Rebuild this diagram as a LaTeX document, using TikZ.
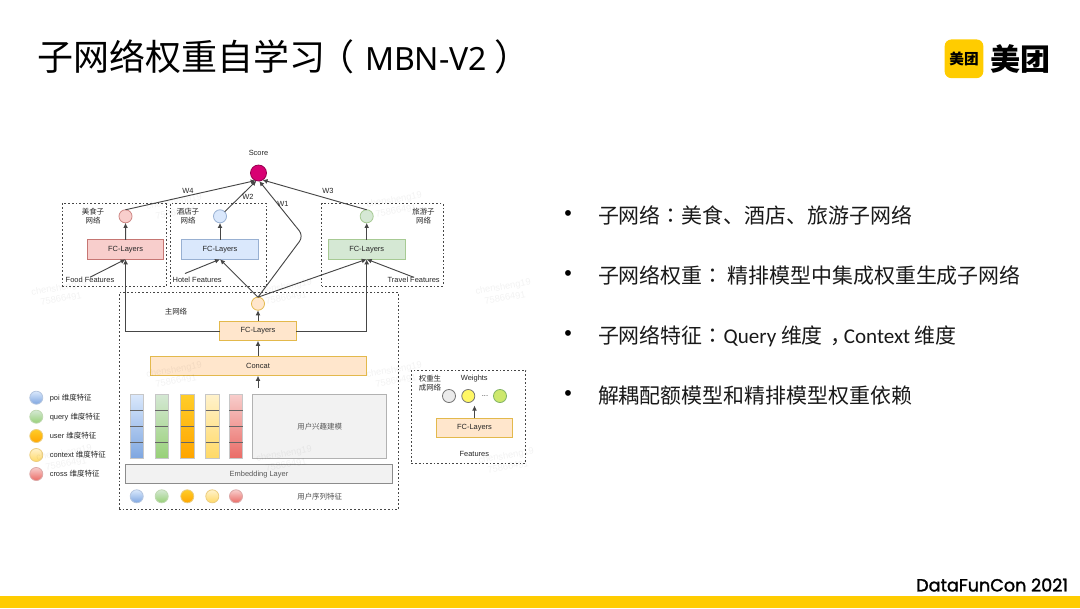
\documentclass[tikz,border=0pt]{standalone}
\usepackage{xcolor}
\usepackage{fontspec}
\setmainfont{Liberation Sans}
\newfontfamily\cjk{Noto Sans CJK SC}
\newfontfamily\cjktc{Noto Sans CJK TC}
\newfontfamily\latinfont{Carlito}
\newfontfamily\titlefont{Noto Sans}
\newfontfamily\confont[FakeBold=1.6]{Poppins}
\usetikzlibrary{arrows.meta,positioning,fit,calc,shapes.geometric}
\definecolor{mtYellow}   {RGB}{255,204,  0}
\definecolor{mtScore}    {RGB}{216,  0,115}
\definecolor{mtBlue}     {RGB}{108,142,191}
\definecolor{mtBlueL}    {RGB}{218,232,252}
\definecolor{mtBlueD}    {RGB}{126,166,224}
\definecolor{mtGreen}    {RGB}{130,179,102}
\definecolor{mtGreenL}   {RGB}{213,232,212}
\definecolor{mtGreenD}   {RGB}{151,208,119}
\definecolor{mtOrange}   {RGB}{215,155,  0}
\definecolor{mtOrangeL}  {RGB}{255,230,204}
\definecolor{mtAmber}    {RGB}{255,205, 40}
\definecolor{mtAmberD}   {RGB}{255,165,  0}
\definecolor{mtCream}    {RGB}{255,242,204}
\definecolor{mtCreamD}   {RGB}{255,217,102}
\definecolor{mtRed}      {RGB}{184, 84, 80}
\definecolor{mtRedL}     {RGB}{248,206,204}
\definecolor{mtRedD}     {RGB}{234,107,102}
\definecolor{mtGrey}     {RGB}{ 70, 70, 70}
\newcommand{\tinytxt}{\fontsize{5.6pt}{6.8pt}\selectfont}
\newcommand{\cntxt}{\cjk\fontsize{5.6pt}{6.8pt}\selectfont}
\newcommand{\cpunct}[1]{{\cjktc #1}}
\newcommand{\qlatin}[1]{{\latinfont\fontsize{15.8pt}{20pt}\selectfont #1}}
\begin{document}
\begin{tikzpicture}[
  x=0.75pt,y=-0.75pt,
  >={Latex[length=3.8pt,width=3.6pt]},
  every node/.style={inner sep=0pt,outer sep=0pt},
  lbl/.style ={font=\tinytxt,text=black!85,align=center},
  cnlbl/.style={font=\cntxt,text=black!85,align=center},
  bullet/.style={font=\fontsize{16pt}{18pt}\selectfont},
  item/.style={anchor=base west,font=\cjk\fontsize{15.7pt}{20pt}\selectfont,text=black!90},
  group/.style={draw=mtGrey,dash pattern=on 1.3pt off 1.5pt,line width=0.6pt},
  fc/.style ={draw,line width=0.7pt,minimum width=57.5pt,minimum height=14.6pt,font=\tinytxt,text=black!85},
  dot/.style={circle,draw,line width=0.6pt,minimum size=9.8pt},
  bar/.style={draw=black!22,line width=0.6pt,minimum width=10pt,minimum height=48.2pt},
  greybox/.style={draw=black!45,fill=black!5,line width=0.7pt},
  link/.style={->,mtGrey,line width=0.7pt},
  wmark/.style={text=black,text opacity=0.05,font=\fontsize{7pt}{8.5pt}\selectfont,rotate=10,align=center}
]
\useasboundingbox (0,0) rectangle (1080,608);
\fill[mtYellow] (0,596) rectangle (1080,608);

% title and logo
\node[anchor=base west,font=\cjk\fontsize{27pt}{30pt}\selectfont] (title) at (37,70.5) {子网络权重自学习\hspace{-5pt}（\hspace{8pt}{\titlefont\fontsize{24pt}{30pt}\selectfont MBN-V2}\hspace{6pt}）};
\node[fill=mtYellow,rounded corners=5pt,minimum size=29pt,font=\cjk\bfseries\fontsize{11pt}{12pt}\selectfont] (logo) at (964,58.8) {美团};
\node[anchor=west,font=\cjk\bfseries\fontsize{22.5pt}{24pt}\selectfont] (logotxt) at (990,59) {美团};
\node[anchor=east,font=\confont\fontsize{13.2pt}{15pt}\selectfont] (con) at (1068,585) {DataFunCon 2021};

% score and sub networks
\node[dot,draw=mtScore!70!black,fill=mtScore,minimum size=12pt] (score) at (258.5,173) {};
\node[lbl] (scorelbl) at (258.5,153) {Score};

\node[group,fit={(62,203.5) (166.5,286)}] (foodnet) {};
\node[group,fit={(170,203.5) (266.7,286)}] (hotelnet) {};
\node[group,fit={(321.7,203.5) (443,286)}] (travelnet) {};
\node[group,fit={(119,292.7) (398.3,509.3)}] (mainnet) {};
\node[group,fit={(411.3,370.7) (525.7,463.3)}] (weightnet) {};

\node[dot,draw=mtRed!70,fill=mtRedL] (foodc) at (125.5,216.3) {};
\node[dot,draw=mtBlue!70,fill=mtBlueL] (hotelc) at (220,216.3) {};
\node[dot,draw=mtGreen!70,fill=mtGreenL] (travelc) at (366.7,216.3) {};
\node[fc,draw=mtRed!80,fill=mtRedL] (foodfc) at (125.6,249.5) {FC-Layers};
\node[fc,draw=mtBlue!70,fill=mtBlueL] (hotelfc) at (220,249.5) {FC-Layers};
\node[fc,draw=mtGreen!70,fill=mtGreenL] (travelfc) at (366.7,249.5) {FC-Layers};
\node[cnlbl] (foodname) at (93,216.5) {美食子\\网络};
\node[cnlbl] (hotelname) at (188,216.5) {酒店子\\网络};
\node[cnlbl] (travelname) at (423.5,216.5) {旅游子\\网络};
\node[lbl,anchor=west] (foodfeat) at (65.7,280) {Food Features};
\node[lbl,anchor=west] (hotelfeat) at (172.7,280) {Hotel Features};
\node[lbl,anchor=west] (travelfeat) at (387.7,280) {Travel Features};
\coordinate (hotelstart) at (185,273.5);

% main network
\node[dot,draw=mtOrange!70,fill=mtOrangeL] (mainc) at (258,303.7) {};
\node[fc,draw=mtOrange!70,fill=mtOrangeL] (mainfc) at (258,331) {FC-Layers};
\node[draw=mtOrange!70,fill=mtOrangeL,line width=0.7pt,fit={(150,356) (366.7,375.7)}] (concat) {};
\node[font=\tinytxt,text=black!85] (concatlbl) at (258,366) {Concat};
\coordinate (concatin) at (258,388);
\node[cnlbl] (mainname) at (176,312) {主网络};

\node[bar,top color=mtBlueL,bottom color=mtBlueD] (bar1) at (136.7,426.2) {};
\node[bar,top color=mtGreenL,bottom color=mtGreenD] (bar2) at (161.7,426.2) {};
\node[bar,top color=mtAmber,bottom color=mtAmberD] (bar3) at (187.3,426.2) {};
\node[bar,top color=mtCream,bottom color=mtCreamD] (bar4) at (212.3,426.2) {};
\node[bar,top color=mtRedL,bottom color=mtRedD] (bar5) at (236,426.2) {};
\foreach \b in {bar1,bar2,bar3,bar4,bar5}
  \foreach \s in {16,32,48}
    \draw[black!60,line width=0.8pt] ($(\b.north west)+(0,\s)$) -- ($(\b.north east)+(0,\s)$);

\node[greybox,draw=black!30,fit={(252.7,394) (386.7,458.3)}] (interest) {};
\node[cnlbl,text=black!65] (interestlbl) at (319.7,426.5) {用户兴趣建模};
\node[greybox,fit={(125.3,464.3) (392.7,483.3)}] (embed) {};
\node[font=\tinytxt,text=black!65] (embedlbl) at (259,474.5) {Embedding Layer};
\node[cnlbl,text=black!70] (seqlbl) at (319.7,497) {用户序列特征};

% feature dots and legend
\foreach \n/\x/\cl/\cd/\ce in {1/136.7/mtBlueL/mtBlueD/mtBlue,2/161.7/mtGreenL/mtGreenD/mtGreen,3/187.3/mtAmber/mtAmberD/mtOrange,4/212.3/mtCream/mtCreamD/mtOrange,5/236/mtRedL/mtRedD/mtRed}
  \node[dot,draw=\ce!50,top color=\cl,bottom color=\cd] (feat\n) at (\x,496.3) {};

\foreach \n/\y/\cl/\cd/\ce/\t in {1/397.7/mtBlueL/mtBlueD/mtBlue/poi,2/416.7/mtGreenL/mtGreenD/mtGreen/query,3/436/mtAmber/mtAmberD/mtOrange/user,4/455/mtCream/mtCreamD/mtOrange/context,5/474/mtRedL/mtRedD/mtRed/cross}{
  \node[dot,draw=\ce!50,top color=\cl,bottom color=\cd] (key\n) at (36.3,\y) {};
  \node[lbl,anchor=west,right=5.2pt of key\n] (keytxt\n) {\t{} {\cntxt 维度特征}};
}

% weight generator
\node[cnlbl] (weightname) at (430,383.5) {权重生\\成网络};
\node[lbl] (weightlbl) at (474.3,378.5) {Weights};
\node[dot,draw=black!55,fill=black!8] (w1c) at (449,396) {};
\node[dot,draw=black!55,fill=yellow!60] (w2c) at (468.3,396) {};
\node[dot,draw=mtGreen,fill=mtGreenD!60!yellow!80] (w3c) at (500,396) {};
\node[lbl] (wdots) at (485,396) {...};
\node[fc,draw=mtOrange!70,fill=mtOrangeL] (weightfc) at (474.5,428) {FC-Layers};
\node[lbl] (featlbl) at (474.3,453.7) {Features};
\coordinate (weightout) at (474.5,405.5);

% connectors
\coordinate (w1bend) at (303.5,236);
\draw[link] (foodc.north) -- (score.-110);
\node[lbl] (w4) at (188,191) {W4};
\draw[link] (hotelc) -- (score.-105);
\node[lbl] (w2) at (248,197) {W2};
\draw[link,rounded corners=5pt] (mainc.north) -- (w1bend) -- (score.-85);
\node[lbl] (w1) at (283,204) {W1};
\draw[link] (travelc.north) -- (score.-60);
\node[lbl] (w3) at (328,191) {W3};
\foreach \f/\c in {foodfc/foodc,hotelfc/hotelc,travelfc/travelc,mainfc/mainc}
  \draw[link] (\f) -- (\c);
\draw[link] (weightfc.north) -- (weightout);
\draw[link] (concat.north -| mainfc) -- (mainfc);
\draw[link] (concatin) -- (concat.south -| concatin);
\draw[link] (mainc.north) -- (hotelfc.south);
\draw[link] (mainc.north) -- (travelfc.south);
\draw[link] (mainfc.west) -| (foodfc.south);
\draw[link] (mainfc.east) -| (travelfc.south);
\draw[link] (foodfeat.north) -- (foodfc.south);
\draw[link] (hotelstart) -- (hotelfc.south);
\draw[link] (travelfeat.north) -- (travelfc.south);

% bullet list
\foreach \y/\t in {216/{子网络\cpunct{：}美食、酒店、旅游子网络},276/{子网络权重\cpunct{：}\hspace{3pt}精排模型中集成权重生成子网络},336/{子网络特征\cpunct{：}\qlatin{Query} 维度\hspace{5.5pt}，\hspace{-5.5pt}\qlatin{Context} 维度},396/{解耦配额模型和精排模型权重依赖}}{
  \node[bullet] at (568,\y) {•};
  \node[item] at ($(598,\y)+(0,7.5)$) {\t};
}

% watermark
\foreach \wx/\wy in {175/207,395/205,60/293,285/292,504/292,175/375,395/375,65/458,285/459,507/461}
  \node[wmark] at (\wx,\wy) {chensheng19\\75866491};
\end{tikzpicture}
\end{document}
